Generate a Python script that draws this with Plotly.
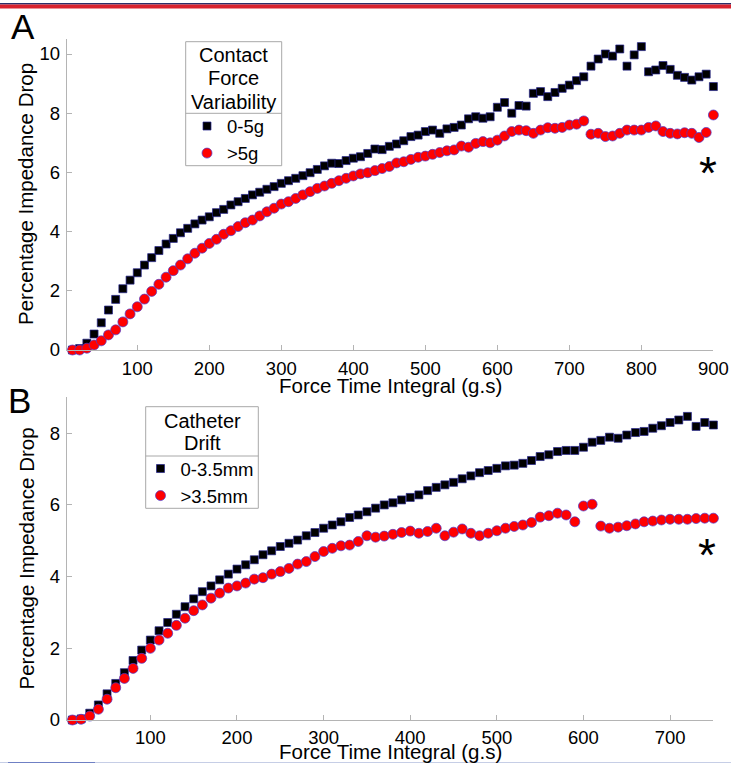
import plotly.graph_objects as go

# ---------------- data ----------------
# Panel A: impedance drop vs force-time integral, split by contact-force variability
fti_a = [10, 20, 30, 40, 50, 60, 70, 80, 90, 100,
         110, 120, 130, 140, 150, 160, 170, 180, 190, 200,
         210, 220, 230, 240, 250, 260, 270, 280, 290, 300,
         310, 320, 330, 340, 350, 360, 370, 380, 390, 400,
         410, 420, 430, 440, 450, 460, 470, 480, 490, 500,
         510, 520, 530, 540, 550, 560, 570, 580, 590, 600,
         610, 620, 630, 640, 650, 660, 670, 680, 690, 700,
         710, 720, 730, 740, 750, 760, 770, 780, 790, 800,
         810, 820, 830, 840, 850, 860, 870, 880, 890, 900]
low_var = [0.00, 0.05, 0.23, 0.54, 0.92, 1.35, 1.71, 2.07, 2.36, 2.61,
           2.87, 3.12, 3.36, 3.58, 3.77, 3.96, 4.11, 4.26, 4.39, 4.50,
           4.64, 4.75, 4.90, 5.01, 5.12, 5.24, 5.33, 5.43, 5.52, 5.63,
           5.72, 5.80, 5.89, 5.99, 6.10, 6.22, 6.31, 6.30, 6.40, 6.48,
           6.53, 6.64, 6.79, 6.77, 6.88, 6.96, 7.07, 7.21, 7.26, 7.38,
           7.43, 7.32, 7.47, 7.52, 7.60, 7.81, 7.88, 7.83, 7.88, 8.20,
           8.36, 8.00, 8.26, 8.24, 8.67, 8.73, 8.56, 8.70, 8.84, 8.95,
           9.10, 9.23, 9.59, 9.83, 10.00, 9.93, 10.17, 9.59, 9.97, 10.25,
           9.40, 9.46, 9.61, 9.48, 9.28, 9.21, 9.12, 9.23, 9.32, 8.90]
high_var = [0.00, 0.00, 0.06, 0.17, 0.31, 0.51, 0.68, 0.95, 1.22, 1.46,
            1.72, 1.98, 2.22, 2.46, 2.68, 2.87, 3.08, 3.27, 3.44, 3.60,
            3.74, 3.91, 4.03, 4.17, 4.30, 4.39, 4.53, 4.67, 4.79, 4.93,
            5.01, 5.12, 5.24, 5.35, 5.46, 5.54, 5.63, 5.72, 5.80, 5.88,
            5.95, 5.99, 6.06, 6.13, 6.20, 6.32, 6.36, 6.44, 6.51, 6.55,
            6.61, 6.67, 6.73, 6.76, 6.89, 6.85, 6.98, 7.04, 7.00, 7.09,
            7.23, 7.38, 7.43, 7.41, 7.32, 7.43, 7.51, 7.49, 7.52, 7.60,
            7.63, 7.74, 7.29, 7.32, 7.21, 7.23, 7.32, 7.43, 7.43, 7.43,
            7.52, 7.57, 7.38, 7.32, 7.30, 7.34, 7.32, 7.18, 7.35, 7.94]

# Panel B: impedance drop vs force-time integral, split by catheter drift
fti_b = [10, 20, 30, 40, 50, 60, 70, 80, 90, 100,
         110, 120, 130, 140, 150, 160, 170, 180, 190, 200,
         210, 220, 230, 240, 250, 260, 270, 280, 290, 300,
         310, 320, 330, 340, 350, 360, 370, 380, 390, 400,
         410, 420, 430, 440, 450, 460, 470, 480, 490, 500,
         510, 520, 530, 540, 550, 560, 570, 580, 590, 600,
         610, 620, 630, 640, 650, 660, 670, 680, 690, 700,
         710, 720, 730, 740, 750]
low_drift = [0.00, 0.03, 0.19, 0.42, 0.73, 1.02, 1.32, 1.66, 1.95, 2.23,
             2.49, 2.72, 2.95, 3.16, 3.38, 3.58, 3.74, 3.91, 4.07, 4.21,
             4.33, 4.47, 4.61, 4.72, 4.84, 4.93, 5.02, 5.14, 5.23, 5.35,
             5.44, 5.53, 5.65, 5.72, 5.81, 5.91, 6.00, 6.06, 6.14, 6.21,
             6.28, 6.40, 6.49, 6.56, 6.63, 6.73, 6.81, 6.90, 6.96, 7.02,
             7.09, 7.11, 7.16, 7.24, 7.35, 7.40, 7.49, 7.52, 7.52, 7.61,
             7.75, 7.80, 7.89, 7.86, 7.95, 8.02, 8.05, 8.14, 8.21, 8.30,
             8.37, 8.47, 8.19, 8.30, 8.23]
high_drift = [0.00, 0.02, 0.11, 0.30, 0.58, 0.90, 1.16, 1.44, 1.72, 2.00,
              2.23, 2.42, 2.64, 2.84, 3.05, 3.21, 3.40, 3.54, 3.68, 3.74,
              3.82, 3.93, 3.97, 4.07, 4.14, 4.23, 4.35, 4.42, 4.56, 4.70,
              4.79, 4.86, 4.88, 4.98, 5.14, 5.10, 5.13, 5.18, 5.23, 5.27,
              5.21, 5.26, 5.35, 5.14, 5.24, 5.33, 5.21, 5.14, 5.21, 5.28,
              5.35, 5.40, 5.44, 5.51, 5.66, 5.70, 5.77, 5.72, 5.53, 5.97,
              6.02, 5.41, 5.35, 5.38, 5.42, 5.47, 5.53, 5.55, 5.58, 5.60,
              5.60, 5.60, 5.62, 5.63, 5.63]

xticks_a = [100, 200, 300, 400, 500, 600, 700, 800, 900]
yticks_a = [0, 2, 4, 6, 8, 10]
xticks_b = [100, 200, 300, 400, 500, 600, 700]
yticks_b = [0, 2, 4, 6, 8]

legend_title_a = ["Contact", "Force", "Variability"]
legend_title_b = ["Catheter", "Drift"]

# significance markers (x, y) in data units
star_a = (893, 6.36)
star_b = (743, 4.91)

# ---------------- styling ----------------
W, H = 731, 765
FONT = "Liberation Sans, Arial, sans-serif"
AXIS_GREY = "#b4b4b4"
SQ = dict(symbol="square", size=8, color="black",
          line=dict(color="#24248c", width=0.7))
CI = dict(symbol="circle", size=10, color="#ff0000",
          line=dict(color="#4a3ad0", width=0.7))


def px_x(p):
    return p / W


def px_y(p):
    return 1 - p / H


fig = go.Figure()

fig.add_trace(go.Scatter(x=fti_a, y=low_var, mode="markers", name="0-5g",
                         marker=SQ, xaxis="x", yaxis="y", legend="legend",
                         cliponaxis=False))
fig.add_trace(go.Scatter(x=fti_a, y=high_var, mode="markers", name=">5g",
                         marker=CI, xaxis="x", yaxis="y", legend="legend",
                         cliponaxis=False))
fig.add_trace(go.Scatter(x=fti_b, y=low_drift, mode="markers", name="0-3.5mm",
                         marker=SQ, xaxis="x2", yaxis="y2", legend="legend2",
                         cliponaxis=False))
fig.add_trace(go.Scatter(x=fti_b, y=high_drift, mode="markers", name=">3.5mm",
                         marker=CI, xaxis="x2", yaxis="y2", legend="legend2",
                         cliponaxis=False))

# fixed margins: the axes must not push the plot area around
axis_common = dict(showgrid=False, zeroline=False, showline=True,
                   linecolor=AXIS_GREY, linewidth=1, ticks="inside",
                   ticklen=5, tickcolor=AXIS_GREY, tickwidth=1,
                   tickfont=dict(family=FONT, size=18.5, color="black"),
                   mirror=False, automargin=False)

xdom = [px_x(66.7), px_x(713.4)]
fig.update_layout(
    xaxis=dict(domain=xdom, range=[2, 900], tickvals=xticks_a, anchor="y",
               ticklabelstandoff=2, **axis_common),
    yaxis=dict(domain=[px_y(350), px_y(39.2)], range=[0, 10.5],
               tickvals=yticks_a, anchor="x", ticklabelstandoff=2,
               **axis_common),
    xaxis2=dict(domain=xdom, range=[3.4, 750], tickvals=xticks_b, anchor="y2",
                ticklabelstandoff=1, **axis_common),
    yaxis2=dict(domain=[px_y(720), px_y(397.4)], range=[0, 9],
                tickvals=yticks_b, anchor="x2", ticklabelstandoff=2,
                **axis_common),
)

legend_common = dict(xanchor="left", yanchor="top", bgcolor="rgba(0,0,0,0)",
                     borderwidth=0, font=dict(family=FONT, size=18.5, color="black"),
                     itemsizing="trace", tracegroupgap=0)
fig.update_layout(
    legend=dict(x=px_x(187), y=px_y(107.5), **legend_common),
    legend2=dict(x=px_x(140.5), y=px_y(450), **legend_common),
)

# legend frames with the divider under the heading
box_line = dict(color="#a8a8a8", width=1)
shapes = [
    dict(type="rect", xref="paper", yref="paper", x0=px_x(185.7), x1=px_x(281.7),
         y0=px_y(165.7), y1=px_y(41.7), line=box_line),
    dict(type="line", xref="paper", yref="paper", x0=px_x(185.7), x1=px_x(281.7),
         y0=px_y(113.3), y1=px_y(113.3), line=box_line),
    dict(type="rect", xref="paper", yref="paper", x0=px_x(145.7), x1=px_x(258.3),
         y0=px_y(508.3), y1=px_y(406.7), line=box_line),
    dict(type="line", xref="paper", yref="paper", x0=px_x(145.7), x1=px_x(258.3),
         y0=px_y(456), y1=px_y(456), line=box_line),
    # page rules at the top and bottom
    dict(type="rect", xref="paper", yref="paper", x0=0, x1=1,
         y0=px_y(4.5), y1=px_y(3), line=dict(width=0), fillcolor="#2a2f6a"),
    dict(type="rect", xref="paper", yref="paper", x0=0, x1=1,
         y0=px_y(8.5), y1=px_y(4.5), line=dict(width=0), fillcolor="#d8232f"),
    dict(type="line", xref="paper", yref="paper", x0=0, x1=1,
         y0=px_y(762.5), y1=px_y(762.5), line=dict(color="#c6cee6", width=1)),
    dict(type="line", xref="paper", yref="paper", x0=px_x(8), x1=px_x(95),
         y0=px_y(762.5), y1=px_y(762.5), line=dict(color="#6f80c4", width=1)),
]

title_font = dict(family=FONT, size=20.5, color="black")
legend_head_font = dict(family=FONT, size=20, color="black")
annotations = [
    dict(text="Force Time Integral (g.s)", xref="paper", yref="paper",
         x=px_x(390), y=px_y(385), xanchor="center", yanchor="middle",
         showarrow=False, font=title_font),
    dict(text="Force Time Integral (g.s)", xref="paper", yref="paper",
         x=px_x(390), y=px_y(751.5), xanchor="center", yanchor="middle",
         showarrow=False, font=title_font),
    dict(text="Percentage Impedance Drop", xref="paper", yref="paper",
         x=px_x(25.5), y=px_y(194.5), xanchor="center", yanchor="middle",
         textangle=-90, showarrow=False, font=title_font),
    dict(text="Percentage Impedance Drop", xref="paper", yref="paper",
         x=px_x(25.5), y=px_y(559), xanchor="center", yanchor="middle",
         textangle=-90, showarrow=False, font=title_font),
    dict(text="A", xref="paper", yref="paper", x=px_x(23), y=px_y(27),
         xanchor="center", yanchor="middle", showarrow=False,
         font=dict(family=FONT, size=35, color="black")),
    dict(text="B", xref="paper", yref="paper", x=px_x(19), y=px_y(400),
         xanchor="center", yanchor="middle", showarrow=False,
         font=dict(family=FONT, size=35, color="black")),
    dict(text="*", xref="x", yref="y", x=star_a[0], y=star_a[1],
         xanchor="center", yanchor="middle", yshift=-11, showarrow=False,
         font=dict(family=FONT, size=46, color="black")),
    dict(text="*", xref="x2", yref="y2", x=star_b[0], y=star_b[1],
         xanchor="center", yanchor="middle", yshift=-11, showarrow=False,
         font=dict(family=FONT, size=46, color="black")),
]

# centred legend headings, one line each
for line, yc in zip(legend_title_a, [55, 78, 101.7]):
    annotations.append(dict(text=line, xref="paper", yref="paper",
                            x=px_x(233.7), y=px_y(yc), xanchor="center",
                            yanchor="middle", showarrow=False,
                            font=legend_head_font))
for line, yc in zip(legend_title_b, [420.7, 443.3]):
    annotations.append(dict(text=line, xref="paper", yref="paper",
                            x=px_x(202), y=px_y(yc), xanchor="center",
                            yanchor="middle", showarrow=False,
                            font=legend_head_font))

fig.update_layout(
    width=W, height=H, autosize=False,
    margin=dict(l=0, r=0, t=0, b=0, pad=0, autoexpand=False),
    paper_bgcolor="white", plot_bgcolor="white",
    font=dict(family=FONT, color="black"),
    shapes=shapes, annotations=annotations,
    showlegend=True,
)

# keep the page flush with the figure so nothing scrolls
page_fix = (
    "document.documentElement.style.margin='0';"
    "document.body.style.margin='0';"
    "document.documentElement.style.overflow='hidden';"
    "document.body.style.overflow='hidden';"
)
fig.write_html("out.html", config={"responsive": False}, post_script=page_fix)
